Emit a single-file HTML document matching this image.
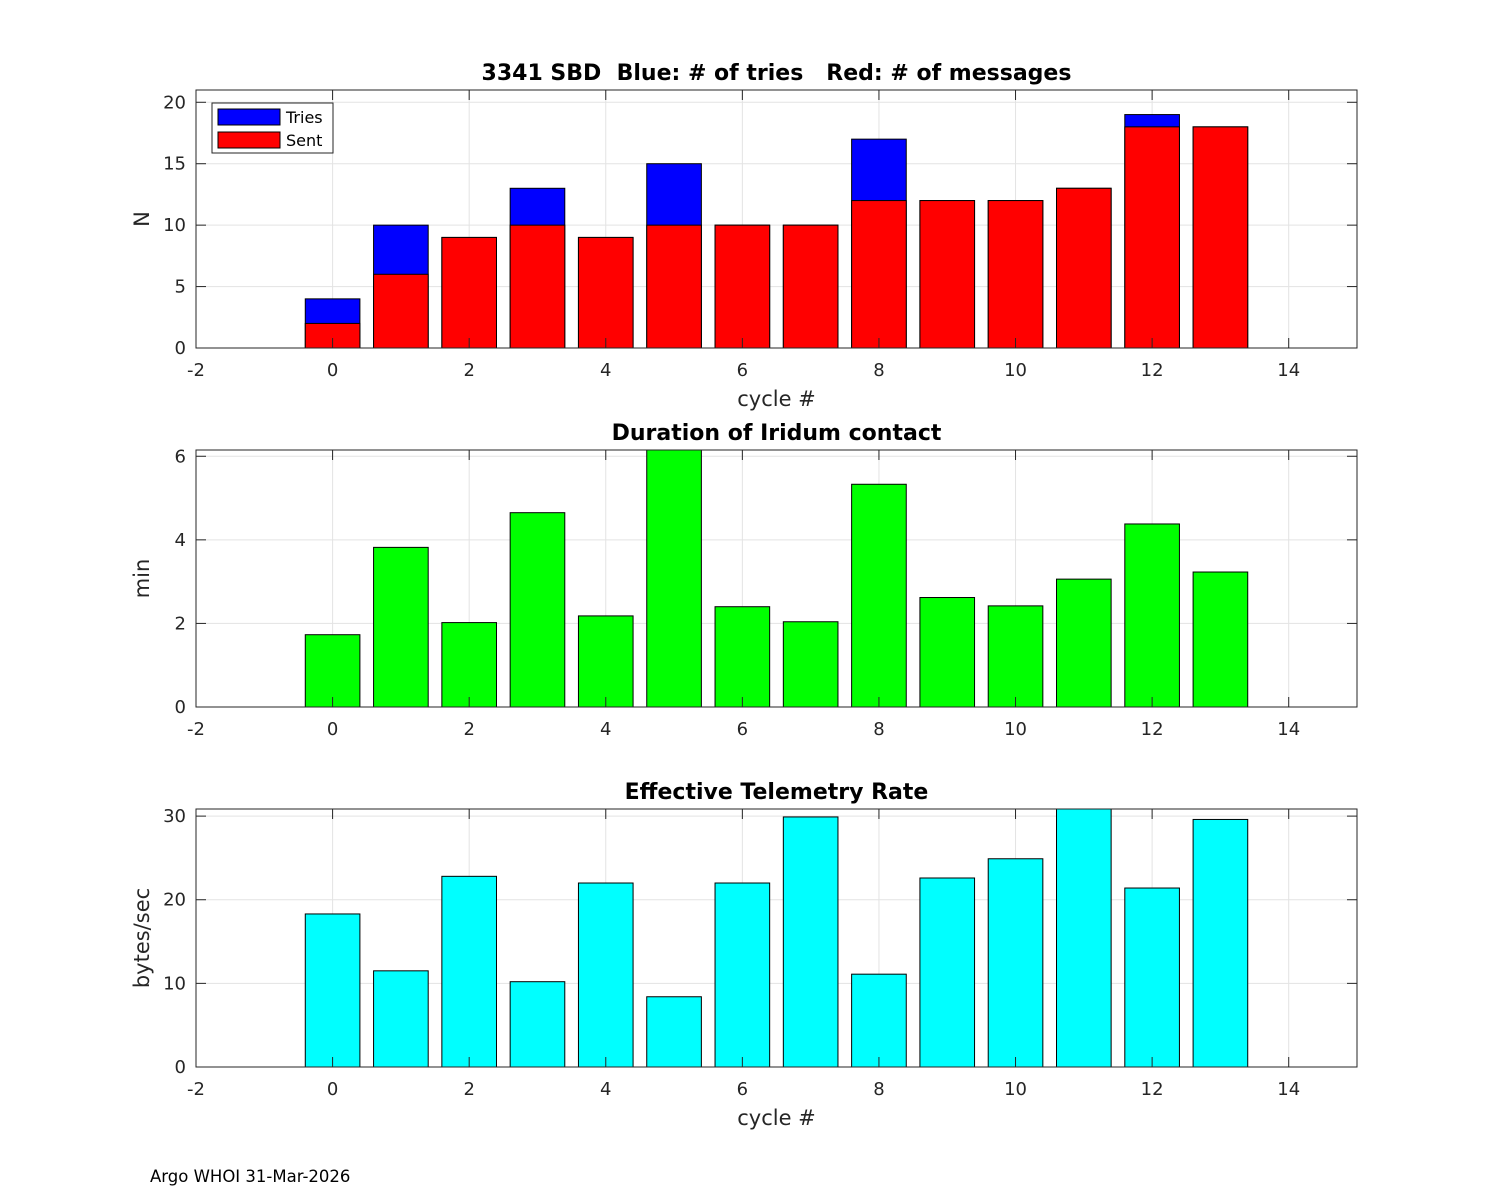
<!DOCTYPE html>
<html><head><meta charset="utf-8"><style>
html,body{margin:0;padding:0;background:#fff;}
svg{display:block;font-family:"DejaVu Sans","Liberation Sans",sans-serif;}
text{white-space:pre;}
</style></head><body>
<svg id="fig" width="1500" height="1200" viewBox="0 0 1500 1200" xmlns="http://www.w3.org/2000/svg" xml:space="preserve">
<rect width="1500" height="1200" fill="#fff"/>
<text x="150" y="1182" font-size="16.5" fill="#000">Argo WHOI 31-Mar-2026</text>
</svg>
<script>
const cycles=[0,1,2,3,4,5,6,7,8,9,10,11,12,13];
const tries=[4,10,9,13,9,15,10,10,17,12,12,13,19,18];
const sent=[2,6,9,10,9,10,10,10,12,12,12,13,18,18];
const duration=[1.73,3.82,2.02,4.65,2.18,6.15,2.4,2.04,5.33,2.62,2.42,3.06,4.38,3.23];
const rate=[18.3,11.5,22.8,10.2,22.0,8.4,22.0,29.9,11.1,22.6,24.9,30.85,21.4,29.6];
const xTicks=[-2,0,2,4,6,8,10,12,14];
const yTicks1=[0,5,10,15,20];
const yTicks2=[0,2,4,6];
const yTicks3=[0,10,20,30];

const NS="http://www.w3.org/2000/svg";
const svg=document.getElementById('fig');
function el(tag,attrs,parent){const e=document.createElementNS(NS,tag);for(const k in attrs)e.setAttribute(k,attrs[k]);(parent||svg).appendChild(e);return e;}
const L=196,R=1357,xmin=-2,xmax=15;
function sx(v){return L+(v-xmin)/(xmax-xmin)*(R-L);}

function panel(name,top,bottom,ymax,yticks,title,ylabel,xlabel){
  const g=el('g',{});
  
  
  const sy=v=>bottom-v/ymax*(bottom-top);
  el('rect',{x:L,y:top,width:R-L,height:bottom-top,fill:'#fff'},g);
  xTicks.forEach(t=>{el('line',{x1:sx(t),x2:sx(t),y1:top,y2:bottom,stroke:'#e3e3e3','stroke-width':1},g);});
  yticks.forEach(t=>{el('line',{x1:L,x2:R,y1:sy(t),y2:sy(t),stroke:'#e3e3e3','stroke-width':1},g);});
  return {g,sy,finish:function(){
    el('rect',{x:L,y:top,width:R-L,height:bottom-top,fill:'none',stroke:'#262626','stroke-width':1},g);
    xTicks.forEach(t=>{
      el('line',{x1:sx(t),x2:sx(t),y1:bottom,y2:bottom-10,stroke:'#262626'},g);
      el('line',{x1:sx(t),x2:sx(t),y1:top,y2:top+10,stroke:'#262626'},g);
      const tx=el('text',{x:sx(t),y:bottom+28,'text-anchor':'middle','font-size':18,fill:'#262626'},g);tx.textContent=t;
      
      
    });
    yticks.forEach(t=>{
      el('line',{x1:L,x2:L+10,y1:sy(t),y2:sy(t),stroke:'#262626'},g);
      el('line',{x1:R,x2:R-10,y1:sy(t),y2:sy(t),stroke:'#262626'},g);
      const tx=el('text',{x:L-10,y:sy(t)+6,'text-anchor':'end','font-size':18,fill:'#262626'},g);tx.textContent=t;
      
      
    });
    const ti=el('text',{x:(L+R)/2,y:top-10,'text-anchor':'middle','font-size':22,'font-weight':'bold',fill:'#000'},g);ti.textContent=title;
    
    
    const yl=el('text',{x:0,y:0,'text-anchor':'middle','font-size':21,fill:'#262626',transform:`translate(${L-47},${(top+bottom)/2}) rotate(-90)`},g);yl.textContent=ylabel;
    
    
    if(xlabel){const xl=el('text',{x:(L+R)/2,y:bottom+58,'text-anchor':'middle','font-size':21,fill:'#262626'},g);xl.textContent=xlabel;
      
      }
  }};
}
function bars(p,vals,color,name){
  vals.forEach((v,i)=>{
    const x0=sx(cycles[i]-0.4),x1=sx(cycles[i]+0.4);
    const r=el('rect',{x:x0,y:p.sy(v),width:x1-x0,height:p.sy(0)-p.sy(v),fill:color,stroke:'#000','stroke-width':1},p.g);
    
    
  });
}
const p1=panel('tries-chart',90,348,21,yTicks1,'3341 SBD  Blue: # of tries   Red: # of messages','N','cycle #');
bars(p1,tries,'#0000ff','tries');bars(p1,sent,'#ff0000','sent');p1.finish();
const lg=el('g',{});


el('rect',{x:212,y:103,width:121,height:50,fill:'#fff',stroke:'#262626'},lg);
el('rect',{x:218,y:109,width:62,height:16,fill:'#0000ff',stroke:'#000'},lg);
el('rect',{x:218,y:132,width:62,height:16,fill:'#ff0000',stroke:'#000'},lg);
let t1=el('text',{x:286,y:123,'font-size':16,fill:'#000'},lg);t1.textContent='Tries';


let t2=el('text',{x:286,y:146,'font-size':16,fill:'#000'},lg);t2.textContent='Sent';



const p2=panel('duration-chart',450,707,6.15,yTicks2,'Duration of Iridum contact','min',null);
bars(p2,duration,'#00ff00','duration');p2.finish();
const p3=panel('rate-chart',809,1067,30.85,yTicks3,'Effective Telemetry Rate','bytes/sec','cycle #');
bars(p3,rate,'#00ffff','rate');p3.finish();
</script>
</body></html>
